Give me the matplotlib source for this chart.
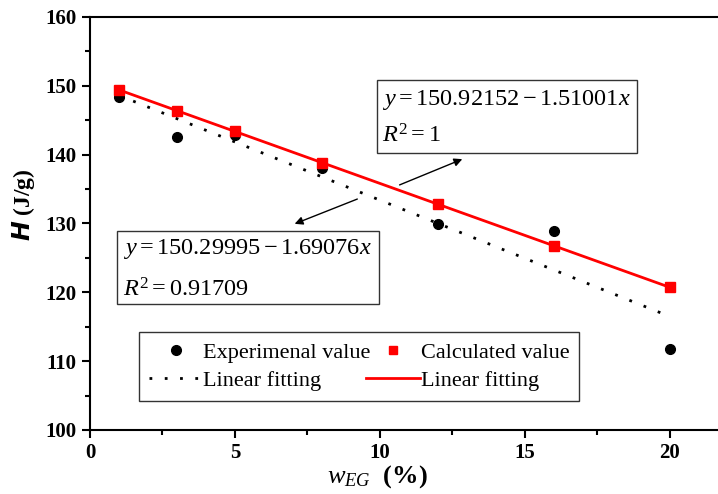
import matplotlib.pyplot as plt
from matplotlib.patches import Rectangle
from matplotlib.lines import Line2D
import numpy as np

plt.rcParams['font.family'] = ['Liberation Serif', 'DejaVu Serif']
plt.rcParams['mathtext.fontset'] = 'custom'
plt.rcParams['mathtext.rm'] = 'Liberation Serif'
plt.rcParams['mathtext.it'] = 'Liberation Serif:italic'
plt.rcParams['mathtext.bf'] = 'Liberation Serif:bold'

# data
w_eg = [1, 3, 5, 8, 12, 16, 20]
h_exp = [148.4, 142.5, 142.8, 138.0, 129.9, 128.9, 111.8]
h_calc = [149.41, 146.39, 143.37, 138.84, 132.80, 126.76, 120.72]
fit_exp = (150.29995, -1.69076)
fit_calc = (150.92152, -1.51001)

dotted = (0, (1, 4.5))

fig = plt.figure(figsize=(7.18, 4.94), dpi=100)
ax = fig.add_axes([0.1253, 0.1296, 0.8747, 0.836])

xx = np.array([1, 20])
ax.plot(xx, fit_exp[0] + fit_exp[1] * xx, color='black', linestyle=dotted, lw=2)
ax.plot(xx, fit_calc[0] + fit_calc[1] * xx, color='red', lw=2)
ax.plot(w_eg, h_exp, 'o', color='black', ms=7, zorder=3)
ax.plot(w_eg, h_calc, 's', color='red', ms=6.5, zorder=4)

ax.set_xlim(0, 21.66)
ax.set_ylim(100, 160)
ax.set_xticks([0, 5, 10, 15, 20])
ax.set_xticks([2.5, 7.5, 12.5, 17.5], minor=True)
ax.set_yticks([100, 110, 120, 130, 140, 150, 160])
ax.set_yticks([105, 115, 125, 135, 145, 155], minor=True)
ax.spines['right'].set_visible(False)
for s in ax.spines.values():
    s.set_linewidth(1.5)
ax.tick_params(which='major', direction='out', length=6, width=1.5, labelsize=15)
ax.tick_params(which='minor', direction='out', length=3.5, width=1.5)
for lab in ax.get_xticklabels() + ax.get_yticklabels():
    lab.set_fontweight('bold')

ax.set_ylabel(r'$\mathbfit{H}$ (J/g)', fontsize=17, fontweight='bold', labelpad=6)
ax.set_xlabel(r'$w_{EG}$  (%)', fontsize=19, fontweight='bold', labelpad=0)
ax.xaxis.label.set_x(0.457)
ax.yaxis.label.set_y(0.545)

# equation boxes
ax.add_patch(Rectangle((9.90, 140.24), 8.96, 10.61, fill=False, lw=1, ec='#333333'))
ax.text(10.08, 148.0, r'$y = 150.92152 - 1.51001x$', fontsize=17.5, va='center')
ax.text(10.08, 142.7, r'$R^2 = 1$', fontsize=17.5, va='center')

ax.add_patch(Rectangle((0.93, 118.3), 9.04, 10.6, fill=False, lw=1, ec='#333333'))
ax.text(1.13, 126.3, r'$y = 150.29995 - 1.69076x$', fontsize=17.5, va='center')
ax.text(1.13, 120.4, r'$R^2 = 0.91709$', fontsize=17.5, va='center')

ax.annotate('', xy=(12.93, 139.5), xytext=(10.59, 135.45),
            arrowprops=dict(arrowstyle='-|>', color='black', lw=1, mutation_scale=12))
ax.annotate('', xy=(6.97, 129.8), xytext=(9.31, 133.7),
            arrowprops=dict(arrowstyle='-|>', color='black', lw=1, mutation_scale=12))

handles = [
    Line2D([], [], marker='o', color='black', ls='none', ms=7),
    Line2D([], [], color='black', linestyle=dotted, lw=2),
    Line2D([], [], marker='s', color='red', ls='none', ms=6),
    Line2D([], [], color='red', lw=2),
]
labels = ['Experimenal value', 'Linear fitting', 'Calculated value', 'Linear fitting']
leg = ax.legend(handles, labels, ncol=2, loc='lower left', bbox_to_anchor=(0.078, 0.07),
                borderaxespad=0, fontsize=16, frameon=True, fancybox=False, framealpha=1,
                edgecolor='#333333', handlelength=2.4, handletextpad=0.05,
                columnspacing=-0.2, labelspacing=0.35, borderpad=0.45)
leg.get_frame().set_linewidth(1)

fig.savefig('out.png', dpi=100)
